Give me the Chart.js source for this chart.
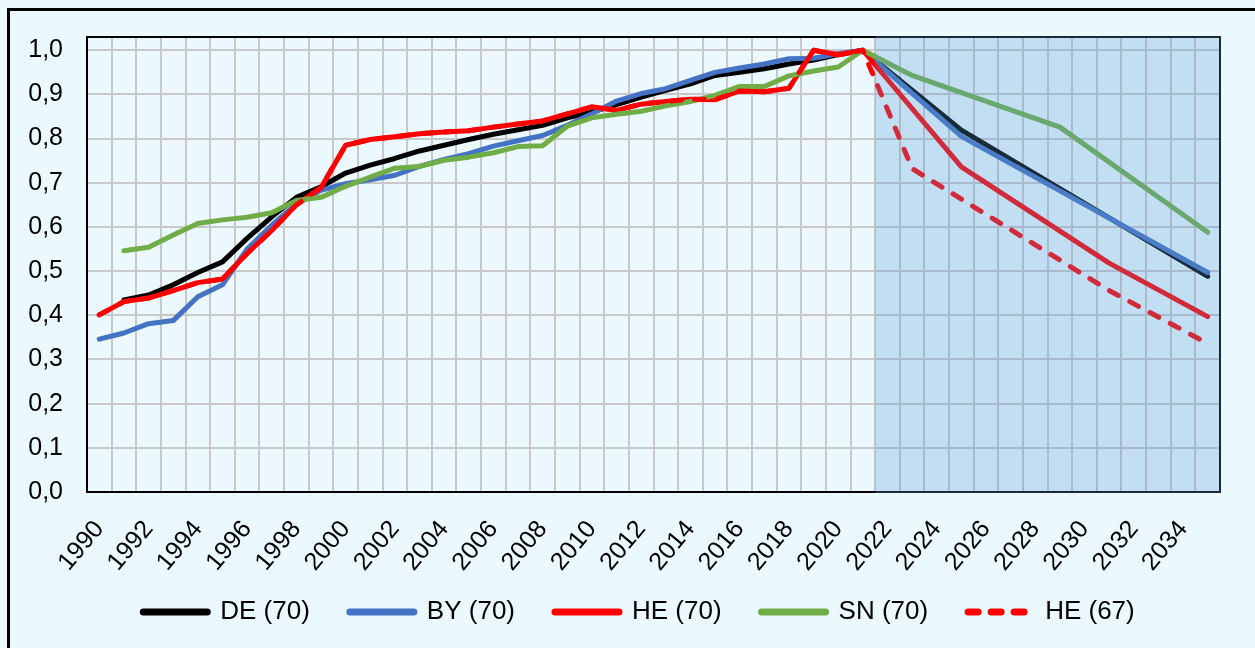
<!DOCTYPE html>
<html><head><meta charset="utf-8">
<script src="https://cdn.jsdelivr.net/npm/chart.js@4/dist/chart.umd.min.js"></script>
<style>html,body{margin:0;padding:0;background:#ebf8fe;overflow:hidden}canvas{display:block}</style>
</head><body>
<canvas id="c" width="1255" height="648"></canvas>
<script>
// ---- data ----
const years = ['1990','1991','1992','1993','1994','1995','1996','1997','1998','1999',
  '2000','2001','2002','2003','2004','2005','2006','2007','2008','2009',
  '2010','2011','2012','2013','2014','2015','2016','2017','2018','2019',
  '2020','2021','2022','2023','2024','2025','2026','2027','2028','2029',
  '2030','2031','2032','2033','2034','2035'];
const projectionStart = '2022';
const tickEvery = 2;
const yTicks = [0, 0.1, 0.2, 0.3, 0.4, 0.5, 0.6, 0.7, 0.8, 0.9, 1.0];

const DE70 = [null, .435, .446, .469, .497, .521, .574, .623, .667, .691,
  .722, .740, .755, .772, .785, .798, .810, .820, .830, .847,
  .860, .877, .894, .909, .924, .943, .950, .958, .969, .978,
  .990, 1.0, null, null, null, .819, null, null, null, null,
  null, null, null, null, null, .488];
const BY70 = [.346, .360, .381, .388, .442, .469, .550, .604, .652, .683,
  .698, .707, .717, .737, .753, .766, .783, .795, .807, .830,
  .856, .885, .902, .913, .932, .950, .960, .969, .981, .982,
  .992, 1.0, null, null, null, .805, null, null, null, null,
  null, null, null, null, null, .497];
const HE70 = [.401, .431, .439, .456, .474, .482, .540, .592, .650, .689,
  .785, .798, .804, .811, .815, .818, .826, .833, .840, .856,
  .872, .864, .878, .884, .889, .888, .908, .906, .914, 1.0,
  .990, 1.0, null, null, null, .736, null, null, null, null,
  null, .518, null, null, null, .397];
const SN70 = [null, .546, .554, .582, .608, .616, .622, .632, .660, .667,
  .692, .713, .733, .737, .751, .758, .768, .782, .784, .828,
  .847, .855, .862, .874, .884, .898, .918, .918, .942, .953,
  .962, 1.0, null, .943, null, null, null, null, null, .826,
  null, null, null, null, null, .588];
const HE67 = [.401, .431, .439, .456, .474, .482, .540, .592, .650, .689,
  .785, .798, .804, .811, .815, .818, .826, .833, .840, .856,
  .872, .864, .878, .884, .889, .888, .908, .906, .914, 1.0,
  .990, 1.0, null, .732, null, null, null, null, null, null,
  null, .456, null, null, null, .336];

// ---- chart ----
const FAMILY = "'Liberation Sans', Arial, sans-serif";

const decor = {
  id: 'decor',
  afterLayout(chart) {
    // let the rotated year labels extend below the axis box without being clipped
    const x = chart.scales.x;
    x.bottom = x.top + 110;
  },
  beforeDraw(chart) {
    const ctx = chart.ctx;
    ctx.save();
    ctx.fillStyle = '#ebf8fe';
    ctx.fillRect(0, 0, chart.width, chart.height);
    ctx.strokeStyle = '#000';
    ctx.lineWidth = 3;
    ctx.beginPath();
    ctx.moveTo(8.5, chart.height + 5);
    ctx.lineTo(8.5, 9.5);
    ctx.lineTo(chart.width + 5, 9.5);
    ctx.stroke();
    ctx.restore();
  },
  beforeDatasetsDraw(chart) {
    const {ctx, chartArea: a} = chart;
    ctx.save();
    ctx.strokeStyle = '#000';
    ctx.lineWidth = 2;
    ctx.strokeRect(a.left, a.top, a.right - a.left, a.bottom - a.top);
    ctx.restore();
  },
  afterDatasetsDraw(chart) {
    const {ctx, chartArea: a, scales: {x}} = chart;
    const i = years.indexOf(projectionStart);
    const xs = (x.getPixelForTick(i - 1) + x.getPixelForTick(i)) / 2;
    ctx.save();
    ctx.fillStyle = 'rgba(91,155,213,0.28)';
    ctx.fillRect(xs, a.top - 1, a.right - xs + 1, a.bottom - a.top + 2);
    ctx.restore();
  }
};

function ds(label, data, color, order, dash) {
  return {
    label, data, borderColor: color, backgroundColor: color,
    borderWidth: 5, pointRadius: 0, pointHoverRadius: 0, spanGaps: true, tension: 0,
    borderCapStyle: 'round', borderJoinStyle: 'round', borderDash: dash || [], order
  };
}

function noPad(s) { s.paddingLeft = 0; s.paddingRight = 0; s.paddingTop = 0; s.paddingBottom = 0; }

new Chart(document.getElementById('c'), {
  type: 'line',
  data: {
    labels: years,
    datasets: [
      ds('DE (70)', DE70, '#000000', 5),
      ds('BY (70)', BY70, '#4472C4', 4),
      ds('HE (70)', HE70, '#FF0000', 3),
      ds('SN (70)', SN70, '#70AD47', 2),
      ds('HE (67)', HE67, '#FF0000', 1, [10, 13])
    ]
  },
  options: {
    responsive: false,
    animation: false,
    devicePixelRatio: 1,
    events: [],
    layout: { padding: { left: 23, right: 0, top: 37, bottom: 13 } },
    plugins: {
      tooltip: { enabled: false },
      legend: {
        position: 'bottom',
        labels: {
          usePointStyle: true,
          pointStyleWidth: 64,
          padding: 40,
          color: '#000',
          font: { size: 26, family: FAMILY },
          generateLabels(chart) {
            const items = Chart.defaults.plugins.legend.labels.generateLabels(chart);
            items.forEach(it => {
              const d = chart.data.datasets[it.datasetIndex];
              it.lineWidth = 7;
              it.pointStyle = 'line';
              it.lineCap = 'round';
              it.lineDash = d.borderDash;
              it.strokeStyle = d.borderColor;
            });
            return items;
          },
          sort: (a, b) => a.datasetIndex - b.datasetIndex
        }
      }
    },
    scales: {
      x: {
        type: 'category',
        offset: true,
        grid: { offset: true, color: '#c8c8c8', lineWidth: 2, drawTicks: false },
        border: { display: false },
        ticks: {
          autoSkip: false, maxRotation: 50, minRotation: 50, padding: 23,
          color: '#000', font: { size: 25, family: FAMILY },
          callback: (v, i) => (i % tickEvery === 0 ? years[i] : '')
        },
        afterFit: s => { s.height = 67; noPad(s); }
      },
      y: {
        min: 0, max: 1.03,
        grid: { color: '#c8c8c8', lineWidth: 2, drawTicks: false },
        border: { display: false },
        afterBuildTicks: s => { s.ticks = yTicks.map(v => ({ value: v })); },
        ticks: {
          padding: 24, color: '#000', font: { size: 25, family: FAMILY },
          callback: v => Number(v).toFixed(1).replace('.', ',')
        },
        afterFit: s => { s.width = 64; noPad(s); }
      },
      yRight: {
        position: 'right',
        display: true,
        grid: { display: false, drawTicks: false },
        border: { display: false },
        ticks: { display: false },
        afterFit: s => { s.width = 35; noPad(s); }
      }
    }
  },
  plugins: [decor]
});
</script>
</body></html>
